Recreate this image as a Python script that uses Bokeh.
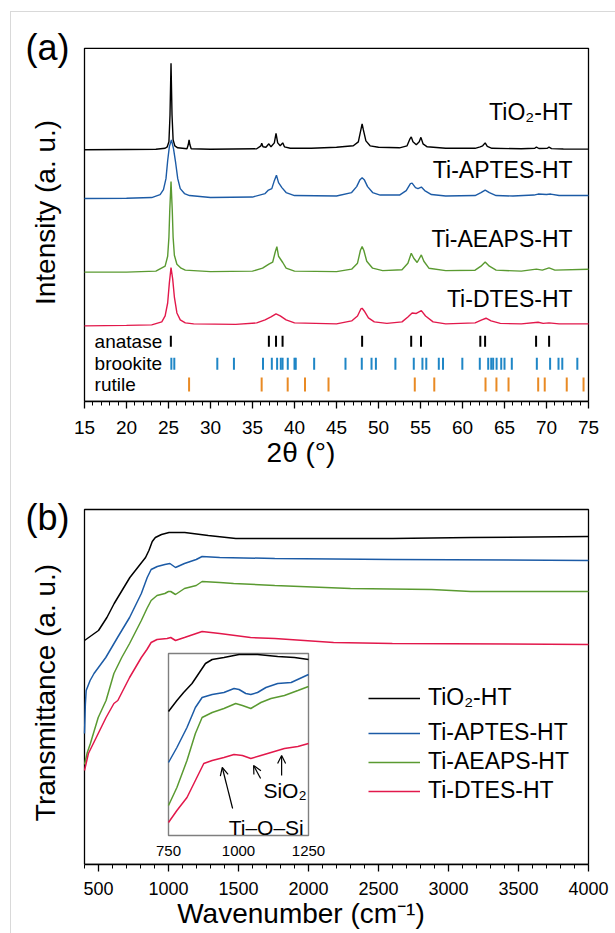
import math
from bokeh.plotting import figure
from bokeh.models import Range1d, FixedTicker, Legend, LegendItem, Arrow, OpenHead
from bokeh.layouts import column
from bokeh.core.properties import value
from bokeh.embed import file_html
from bokeh.resources import INLINE

FONT = "Liberation Sans"

# ---------------- data: (a) XRD ----------------
samples = ["TiO₂-HT", "Ti-APTES-HT", "Ti-AEAPS-HT", "Ti-DTES-HT"]
colors = ["#000000", "#1c5ba6", "#5a9a31", "#e2184b"]

tio2_2theta = [15, 20, 23.5, 24.6, 24.85, 25.05, 25.18, 25.3, 25.42, 25.55, 25.75, 26.1, 27.2, 27.35, 27.45, 27.55, 27.7,
               30, 35.5, 36.0, 36.1, 36.25, 36.6, 36.95, 37.2, 37.6, 37.8, 38.0, 38.3, 38.6, 38.8, 39.5, 42, 45, 47,
               47.6, 47.9, 48.05, 48.2, 48.5, 49.0, 50.0, 52.5, 53.4, 53.75, 53.9, 54.1, 54.5, 54.85, 55.05, 55.3, 55.8,
               58, 61.5, 62.1, 62.4, 62.7, 62.95, 63.5, 67, 68.6, 68.8, 69.1, 70.1, 70.3, 70.6, 72, 75]
tio2_int = [0, 0.3, 0.5, 1.5, 3, 8, 35, 87, 35, 10, 4, 2, 1, 5, 10, 5, 1,
            0.5, 1, 4, 6.5, 3, 2.5, 6, 3, 7, 16.5, 7, 4, 7, 3, 1.5, 1.5, 2.5, 4,
            8, 20, 26, 20, 9, 4, 2.5, 2, 4, 11, 13, 8, 5, 8, 12.5, 6, 3,
            1.5, 1.5, 3, 4, 7, 3.5, 1.5, 1, 1.5, 2.7, 1.3, 1.5, 2.7, 1.2, 0.8, 0.7]

aptes_2theta = [15, 20, 23, 24.0, 24.4, 24.7, 24.9, 25.1, 25.35, 25.6, 25.85, 26.1, 26.4, 26.9, 27.5, 30, 35,
                36.5, 36.9, 37.3, 37.6, 37.85, 38.1, 38.5, 39, 40, 45, 46.8, 47.4, 47.8, 48.05, 48.3, 48.7, 49.3,
                50.2, 52.5, 53.3, 53.8, 54.0, 54.4, 54.7, 55.1, 55.5, 56.3, 58, 61.5, 62.2, 62.7, 63.2, 64, 66,
                68.5, 69, 70, 70.5, 71.5, 75]
aptes_int = [0, 0.3, 1, 4, 9, 20, 38, 52, 59, 50, 36, 20, 10, 5, 3, 1, 1.5,
             5, 8.5, 10, 18, 23.5, 16, 11, 6, 3, 2.5, 6, 12, 19, 21, 19, 12, 6,
             3.5, 3.5, 8, 15, 15.5, 11, 10, 11.5, 8, 4, 2.5, 3, 6, 8.5, 6, 3, 2.5,
             3.5, 4.5, 4, 4.5, 3, 3]

aeaps_2theta = [15, 20, 23.5, 24.6, 24.9, 25.05, 25.15, 25.3, 25.45, 25.55, 25.7, 26.0, 26.5, 27, 30, 35,
                36.2, 36.95, 37.4, 37.7, 37.9, 38.1, 38.6, 39, 40, 45, 46.8, 47.5, 47.85, 48.05, 48.25, 48.6, 49.3,
                50.5, 52.8, 53.5, 53.9, 54.2, 54.6, 55.1, 55.4, 56.0, 58, 61.5, 62.2, 62.7, 63.2, 64, 67,
                68.8, 69.5, 70.3, 71, 75]
aeaps_int = [0, 0, 1, 6, 16, 35, 62, 91, 62, 35, 17, 8, 4, 2, 0.5, 1,
             4, 8, 10, 20, 25.7, 16, 9.7, 4, 1, 0.5, 3, 9, 22, 25.7, 22, 11, 4,
             1.5, 2.5, 9, 19, 14, 9.7, 17.3, 11, 4, 1.5, 2, 6, 10.3, 6, 2, 1,
             3, 2, 4.3, 2, 3]

dtes_2theta = [15, 20, 23, 24.2, 24.6, 24.9, 25.1, 25.3, 25.5, 25.7, 26.0, 26.4, 27, 28, 33, 35.5,
               36.5, 37.2, 37.8, 38.3, 39, 40, 45, 46.8, 47.5, 47.9, 48.05, 48.3, 48.8, 49.5, 51,
               52.8, 53.5, 54.0, 54.5, 55.1, 55.6, 56.5, 58, 61.5, 62.3, 62.8, 63.4, 64.5, 67,
               69, 69.6, 70.3, 71.5, 75]
dtes_int = [-1, -0.5, 0, 3, 9, 22, 42, 57.7, 46, 28, 12, 5, 2, 1, 0.5, 2,
            5, 8, 11, 9, 5, 2, 1, 4, 9, 16, 16.7, 14, 7, 3, 1.5,
            3, 8, 12, 11.5, 14.3, 9, 3, 1, 2, 5, 6.7, 4, 1.5, 1,
            2.7, 1.5, 2, 1, 1]

xrd_offsets = [253, 204, 130, 77]
xrd_label_y = [291, 232.5, 163, 103]

anatase_pos = [25.28, 36.95, 37.80, 38.58, 48.05, 53.89, 55.06, 62.12, 62.69, 68.76, 70.31]
brookite_pos = [25.34, 25.69, 30.81, 32.79, 36.25, 37.30, 37.93, 38.37, 38.58, 39.20, 40.00, 40.15, 42.34,
                46.07, 48.01, 49.17, 49.69, 52.01, 54.20, 55.23, 55.69, 57.18, 57.68, 59.98, 62.06, 63.06,
                63.42, 63.65, 64.06, 64.61, 65.00, 65.87, 68.85, 70.43, 71.43, 71.88, 73.67]
rutile_pos = [27.45, 36.09, 39.19, 41.25, 44.05, 54.32, 56.64, 62.74, 64.04, 65.48, 69.01, 69.79, 72.41, 74.41]
phase_names = ["anatase", "brookite", "rutile"]
phase_colors = ["#000000", "#1f86c6", "#e98a24"]

xrd_ticks = [15, 20, 25, 30, 35, 40, 45, 50, 55, 60, 65, 70, 75]

# ---------------- data: (b) FTIR ----------------
tio2_wn = [400, 420, 450, 500, 560, 612, 668, 724, 780, 836, 860, 884, 906, 950, 1004, 1116, 1284, 1481,
           1761, 2181, 2601, 3161, 4000]
tio2_T = [224, 226, 229, 234, 247, 261, 274, 287, 297, 307, 314, 323, 327, 330, 332, 332, 329, 326,
          326, 326, 326, 327, 328]
aptes_wn = [400, 406, 412, 440, 468, 552, 636, 722, 806, 848, 876, 920, 974, 1010, 1050, 1114, 1198, 1240,
            1366, 1759, 2599, 4000]
aptes_T = [131, 160, 174, 184, 191, 207, 227, 247, 271, 287, 295, 298, 300, 301, 297, 301, 305, 308,
           307, 306, 305, 304]
aeaps_wn = [400, 420, 442, 498, 554, 610, 666, 722, 806, 846, 876, 918, 974, 1000, 1016, 1050, 1114, 1198,
            1240, 1366, 1465, 1759, 2300, 2879, 3160, 4000]
aeaps_T = [100, 112, 121, 147, 164, 191, 207, 221, 244, 256, 264, 269, 271, 273, 273, 270, 276, 279,
           283, 282, 281, 279, 276, 275, 273, 273]
dtes_wn = [400, 428, 498, 554, 610, 638, 722, 806, 846, 876, 918, 990, 1016, 1050, 1114, 1198, 1240,
           1366, 1586, 1759, 2179, 2599, 4000]
dtes_T = [94, 111, 131, 147, 161, 164, 187, 207, 215, 222, 225, 226, 227, 224, 227, 231, 233,
          231, 227, 226, 222, 221, 220]
ftir_ticks = [500, 1000, 1500, 2000, 2500, 3000, 3500, 4000]

# inset (750-1250 cm-1, expanded)
in_tio2_wn = [750, 780, 804, 834, 858, 882, 906, 948, 1002, 1068, 1140, 1200, 1250]
in_tio2_T = [124, 135, 143, 152, 162, 172, 176, 178, 181, 181, 179, 178, 176]
in_aptes_wn = [750, 780, 816, 846, 870, 906, 948, 984, 1002, 1026, 1044, 1068, 1098, 1140, 1188, 1250]
in_aptes_T = [73, 88, 108, 128, 138, 141, 143, 147, 146, 142, 141, 143, 148, 152, 153, 161]
in_aeaps_wn = [750, 780, 816, 846, 870, 906, 948, 990, 1014, 1044, 1080, 1116, 1164, 1212, 1250]
in_aeaps_T = [30, 48, 75, 102, 118, 123, 127, 132, 130, 127, 133, 137, 140, 145, 149]
in_dtes_wn = [750, 780, 816, 846, 876, 906, 948, 984, 1014, 1044, 1080, 1116, 1164, 1212, 1250]
in_dtes_T = [13, 25, 38, 55, 72, 75, 78, 81, 80, 77, 80, 83, 87, 89, 92]
inset_ticks = [750, 1000, 1250]
# annotation arrows (tail -> tip), inset units
arrow_x0 = [979, 1079, 1154]
arrow_y0 = [27, 57, 60]
arrow_x1 = [942, 1054, 1154]
arrow_y1 = [68, 70, 80]

# ---------------- layout constants (px) ----------------
FIG_W = 604
FRAME_L_PAGE = 11          # frame starts at the figure's left edge
AX_L_PAGE = 84             # visible axes box left
AX_R_PAGE = 588            # visible axes box right
FRAME_R_PAGE = 590
PX_A = (AX_R_PAGE - AX_L_PAGE) / 60.0      # px per degree
PX_B = (AX_R_PAGE - AX_L_PAGE) / 3600.0    # px per cm-1


def style_xaxis(p, ticks, minor, size, bounds, standoff, label, label_standoff):
    ax = p.xaxis[0]
    ax.bounds = bounds
    ax.ticker = FixedTicker(ticks=ticks, minor_ticks=minor)
    ax.major_tick_in = 0
    ax.major_tick_out = 7
    ax.minor_tick_in = 0
    ax.minor_tick_out = 4
    ax.axis_line_width = 1.3
    ax.major_tick_line_width = 1.3
    ax.minor_tick_line_width = 1
    ax.major_label_text_font = FONT
    ax.major_label_text_font_size = size
    ax.major_label_text_color = "black"
    ax.major_label_standoff = standoff
    ax.axis_label = label
    ax.axis_label_text_font = FONT
    ax.axis_label_text_font_size = "28px"
    ax.axis_label_text_font_style = "normal"
    ax.axis_label_text_color = "black"
    ax.axis_label_standoff = label_standoff


def base_fig(xr, yr, h, bottom):
    p = figure(width=FIG_W, height=h, x_range=xr, y_range=yr,
               output_backend="svg", toolbar_location=None,
               min_border_left=0, min_border_right=FIG_W + FRAME_L_PAGE - FRAME_R_PAGE,
               min_border_top=0, min_border_bottom=bottom,
               background_fill_color="white", border_fill_color="white",
               outline_line_color=None)
    p.grid.visible = False
    p.yaxis.visible = False
    return p


# ================= panel (a) =================
xa0 = 15 - (AX_L_PAGE - FRAME_L_PAGE) / PX_A
xa1 = 75 + (FRAME_R_PAGE - AX_R_PAGE) / PX_A
pa = base_fig(Range1d(xa0, xa1), Range1d(0, 391), 458, 67)
style_xaxis(pa, xrd_ticks, list(range(15, 76)), "19px", (15, 75), 12, "2θ (°)", 0)
pa.quad(left=[15], right=[75], bottom=[0], top=[355], fill_color=None, line_color="black", line_width=1.3)

xrd = [(tio2_2theta, tio2_int), (aptes_2theta, aptes_int), (aeaps_2theta, aeaps_int), (dtes_2theta, dtes_int)]
for (xs, ys), off, c in zip(xrd, xrd_offsets, colors):
    pa.line(xs, [v + off for v in ys], line_color=c, line_width=1.4)

pa.text(x=[73.1] * 4, y=xrd_label_y, text=samples, text_font=value(FONT), text_font_size="23px",
        text_align="right", text_baseline="middle", text_color="black")

phase_rows = [(55, 66, 60.5), (32, 44, 38), (10, 24, 17)]
for pos, name, c, (y0, y1, ty) in zip([anatase_pos, brookite_pos, rutile_pos], phase_names, phase_colors, phase_rows):
    pa.segment(x0=pos, y0=[y0] * len(pos), x1=pos, y1=[y1] * len(pos), line_color=c, line_width=2)
    pa.text(x=[16.2], y=[ty], text=[name], text_font=value(FONT), text_font_size="19px",
            text_align="left", text_baseline="middle", text_color="black")

pa.text(x=[15 - 59 / PX_A], y=[356], text=["(a)"], text_font=value(FONT), text_font_size="36px",
        text_align="left", text_baseline="middle", text_color="black")
pa.text(x=[15 - 39 / PX_A], y=[190], text=["Intensity (a. u.)"], angle=math.pi / 2, text_font=value(FONT),
        text_font_size="28px", text_align="center", text_baseline="middle", text_color="black")

# ================= panel (b) =================
xb0 = 400 - (AX_L_PAGE - FRAME_L_PAGE) / PX_B
xb1 = 4000 + (FRAME_R_PAGE - AX_R_PAGE) / PX_B
YB1 = 394
pb = base_fig(Range1d(xb0, xb1), Range1d(0, YB1), 463, 69)
style_xaxis(pb, ftir_ticks, list(range(400, 4001, 100)), "18px", (400, 4000), 10, "Wavenumber (cm⁻¹)", 0)
pb.quad(left=[400], right=[4000], bottom=[0], top=[355], fill_color=None, line_color="black", line_width=1.3)

ftir = [(tio2_wn, tio2_T), (aptes_wn, aptes_T), (aeaps_wn, aeaps_T), (dtes_wn, dtes_T)]
rends = []
for (xs, ys), c in zip(ftir, colors):
    rends.append(pb.line(xs, ys, line_color=c, line_width=1.5))

# inset placed over main-axis span 1000-2000 cm-1 (x) and 29-211 (y), via extra ranges
box_x0, box_x1, box_y0, box_y1 = 1000, 2000, 29, 211
in_x0, in_x1, in_y0, in_y1 = 750, 1250, 0, 182
kx = (in_x1 - in_x0) / (box_x1 - box_x0)
ky = (in_y1 - in_y0) / (box_y1 - box_y0)
pb.extra_x_ranges = {"ix": Range1d(in_x0 + (xb0 - box_x0) * kx, in_x0 + (xb1 - box_x0) * kx)}
pb.extra_y_ranges = {"iy": Range1d(in_y0 + (0 - box_y0) * ky, in_y0 + (YB1 - box_y0) * ky)}
kw = dict(x_range_name="ix", y_range_name="iy")

pb.quad(left=[in_x0], right=[in_x1], bottom=[in_y0], top=[in_y1], fill_color="white",
        line_color="#7f7f7f", line_width=1.4, **kw)
inset = [(in_tio2_wn, in_tio2_T), (in_aptes_wn, in_aptes_T), (in_aeaps_wn, in_aeaps_T), (in_dtes_wn, in_dtes_T)]
for (xs, ys), c in zip(inset, colors):
    pb.line(xs, ys, line_color=c, line_width=1.5, **kw)
pb.text(x=inset_ticks, y=[-15] * 3, text=[str(t) for t in inset_ticks], text_font=value(FONT),
        text_font_size="15px", text_align="center", text_baseline="middle", text_color="black", **kw)
pb.text(x=[965], y=[8], text=["Ti–O–Si"], text_font=value(FONT), text_font_size="21px",
        text_align="left", text_baseline="alphabetic", text_color="black", **kw)
pb.text(x=[1089], y=[45], text=["SiO₂"], text_font=value(FONT), text_font_size="21px",
        text_align="left", text_baseline="alphabetic", text_color="black", **kw)
for a0, b0, a1, b1 in zip(arrow_x0, arrow_y0, arrow_x1, arrow_y1):
    pb.add_layout(Arrow(end=OpenHead(size=8, line_width=1.2), x_start=a0, y_start=b0, x_end=a1, y_end=b1,
                        line_width=1.2, line_color="black", **kw))

leg_kw = dict(border_line_color=None, background_fill_alpha=0, padding=0, margin=0, glyph_width=52,
              glyph_height=22, label_height=22, spacing=2, label_standoff=8,
              label_text_font=FONT, label_text_font_size="23px", label_text_color="black")
leg1 = Legend(items=[LegendItem(label=samples[0], renderers=[rends[0]])], location=(357, 153), **leg_kw)
leg2 = Legend(items=[LegendItem(label=s, renderers=[r]) for s, r in zip(samples[1:], rends[1:])],
              location=(357, 60), **leg_kw)
pb.add_layout(leg1)
pb.add_layout(leg2)

pb.text(x=[400 - 59 / PX_B], y=[347], text=["(b)"], text_font=value(FONT), text_font_size="36px",
        text_align="left", text_baseline="middle", text_color="black")
pb.text(x=[400 - 39 / PX_B], y=[172], text=["Transmittance (a. u.)"], angle=math.pi / 2, text_font=value(FONT),
        text_font_size="28px", text_align="center", text_baseline="middle", text_color="black")

layout = column(pa, pb, margin=(11, 0, 0, 10),
                styles={"border-top": "1px solid #d9d9d9", "border-left": "1px solid #d9d9d9"})

open("out.html", "w").write(file_html(layout, INLINE))
